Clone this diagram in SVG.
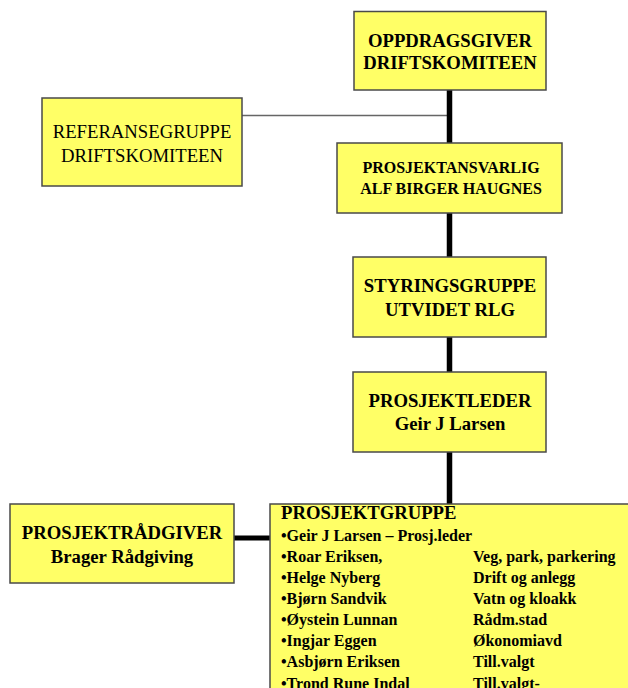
<svg xmlns="http://www.w3.org/2000/svg" width="628" height="688" viewBox="0 0 628 688">
<style>
.box{fill:#FFFF66;stroke:#4a4a4a;stroke-width:1.5}
text{font-family:"Liberation Serif","Times New Roman",serif;fill:#000}
.b{font-weight:bold}
.t{font-size:18.7px;font-weight:bold;text-anchor:middle}
.r{font-size:18.7px;text-anchor:middle}
.m{font-size:16px;font-weight:bold}
</style>
<rect width="628" height="688" fill="#fff"/>
<g id="connectors">
<line x1="242" y1="115.5" x2="449.5" y2="115.5" stroke="#666" stroke-width="1.5"/>
<line x1="449.5" y1="90" x2="449.5" y2="504" stroke="#000" stroke-width="5.5"/>
<line x1="234" y1="538" x2="270" y2="538" stroke="#000" stroke-width="5"/>
</g>
<g id="oppdragsgiver">
<rect class="box" x="354" y="11.5" width="192" height="78.5"/>
<text class="t" x="450" y="47">OPPDRAGSGIVER</text>
<text class="t" x="450" y="68.5">DRIFTSKOMITEEN</text>
</g>
<g id="referansegruppe">
<rect class="box" x="42" y="98" width="200" height="88"/>
<text class="r" x="142" y="138">REFERANSEGRUPPE</text>
<text class="r" x="142" y="162">DRIFTSKOMITEEN</text>
</g>
<g id="prosjektansvarlig">
<rect class="box" x="337" y="143" width="225" height="70"/>
<text class="b" x="451" y="173" font-size="16" text-anchor="middle">PROSJEKTANSVARLIG</text>
<text class="b" x="451" y="194" font-size="16" text-anchor="middle">ALF BIRGER HAUGNES</text>
</g>
<g id="styringsgruppe">
<rect class="box" x="353" y="257" width="193" height="80"/>
<text class="t" x="450" y="292">STYRINGSGRUPPE</text>
<text class="t" x="450" y="316">UTVIDET RLG</text>
</g>
<g id="prosjektleder">
<rect class="box" x="353" y="372" width="193" height="80"/>
<text class="t" x="450" y="407">PROSJEKTLEDER</text>
<text class="t" x="450" y="430">Geir J Larsen</text>
</g>
<g id="prosjektradgiver">
<rect class="box" x="10" y="504" width="224" height="79"/>
<text class="t" x="122" y="539">PROSJEKTRÅDGIVER</text>
<text class="t" x="122" y="563">Brager Rådgiving</text>
</g>
<g id="prosjektgruppe">
<rect class="box" x="270" y="504" width="370" height="200"/>
<text class="b" x="281" y="519" font-size="18.7">PROSJEKTGRUPPE</text>
<text class="m" x="281" y="541">•Geir J Larsen – Prosj.leder</text>
<text class="m" x="281" y="562">•Roar Eriksen,</text>
<text class="m" x="473" y="562">Veg, park, parkering</text>
<text class="m" x="281" y="583">•Helge Nyberg</text>
<text class="m" x="473" y="583">Drift og anlegg</text>
<text class="m" x="281" y="604">•Bjørn Sandvik</text>
<text class="m" x="473" y="604">Vatn og kloakk</text>
<text class="m" x="281" y="625">•Øystein Lunnan</text>
<text class="m" x="473" y="625">Rådm.stad</text>
<text class="m" x="281" y="646">•Ingjar Eggen</text>
<text class="m" x="473" y="646">Økonomiavd</text>
<text class="m" x="281" y="667">•Asbjørn Eriksen</text>
<text class="m" x="473" y="667">Till.valgt</text>
<text class="m" x="281" y="689">•Trond Rune Indal</text>
<text class="m" x="473" y="689">Till.valgt-</text>
</g>
</svg>
